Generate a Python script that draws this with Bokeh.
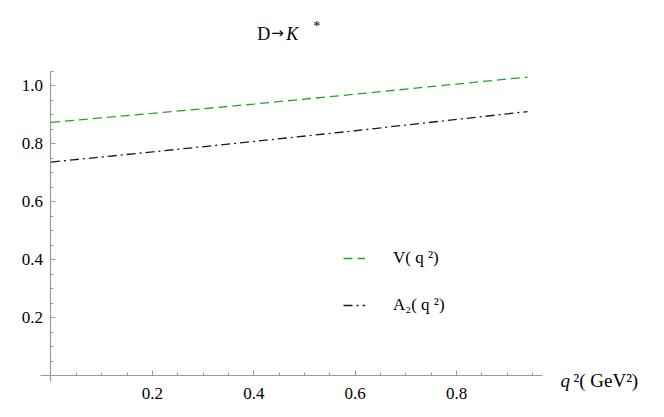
from bokeh.plotting import figure
from bokeh.models import (FixedTicker, PrintfTickFormatter, Label, Legend, LegendItem,
                          Range1d, ColumnDataSource)
from bokeh.embed import file_html
from bokeh.resources import INLINE

# ---- data ----
q2 = [0.0, 0.2, 0.4, 0.6, 0.8, 0.94]
V_vals = [0.874, 0.905, 0.937, 0.971, 1.006, 1.030]
A2_vals = [0.737, 0.772, 0.808, 0.845, 0.884, 0.911]

x_major = [0.2, 0.4, 0.6, 0.8]
x_minor = [0.05, 0.1, 0.15, 0.25, 0.3, 0.35, 0.45, 0.5, 0.55, 0.65, 0.7, 0.75, 0.85, 0.9, 0.95]
y_major = [0.2, 0.4, 0.6, 0.8, 1.0]
y_minor = [0.05, 0.1, 0.15, 0.25, 0.3, 0.35, 0.45, 0.5, 0.55, 0.65, 0.7, 0.75, 0.85, 0.9, 0.95, 1.05]

title_d = "D"
title_arrow = "→"
title_k = "K"
title_star = "*"
xlabel_q = "q"
xlabel_rest = "²( GeV²)"
label_V = "V( q ²)"
label_A2 = "A₂( q ²)"

FONT = "Liberation Serif"
GREEN = "#2e9b2e"
BLACK = "#1a1a1a"
AXIS = "#9a9a9a"

W, H = 660, 410
p = figure(width=W, height=H, min_border=0,
           x_range=Range1d(-0.0996, 1.2022), y_range=Range1d(-0.1197, 1.2941),
           output_backend="svg", toolbar_location=None)

p.outline_line_color = None
p.xgrid.visible = False
p.ygrid.visible = False
p.background_fill_color = "white"
p.border_fill_color = "white"

for ax, maj, mnr, loc, bnds in ((p.xaxis[0], x_major, x_minor, 0, (-0.021, 0.97)),
                                (p.yaxis[0], y_major, y_minor, 0, (-0.02, 1.05))):
    ax.fixed_location = loc
    ax.bounds = bnds
    ax.ticker = FixedTicker(ticks=maj, minor_ticks=mnr)
    ax.formatter = PrintfTickFormatter(format="%.1f")
    ax.axis_line_color = AXIS
    ax.axis_line_width = 1.2
    ax.major_tick_line_color = AXIS
    ax.minor_tick_line_color = AXIS
    ax.major_tick_in = 5
    ax.major_tick_out = 0
    ax.minor_tick_in = 3
    ax.minor_tick_out = 0
    ax.major_label_text_font = FONT
    ax.major_label_text_font_size = "17px"
    ax.major_label_text_color = "black"

p.xaxis.major_label_standoff = 12
p.yaxis.major_label_standoff = 8

src = ColumnDataSource(dict(q2=q2, V=V_vals, A2=A2_vals))
rV = p.line("q2", "V", source=src, line_color=GREEN, line_width=1.3, line_dash="9 5")
rA = p.line("q2", "A2", source=src, line_color=BLACK, line_width=1.3, line_dash="9 4 2 4")

legend = Legend(items=[LegendItem(label=label_V, renderers=[rV]),
                       LegendItem(label=label_A2, renderers=[rA])],
                location=(343, 95), orientation="vertical",
                glyph_width=22, glyph_height=20, label_standoff=28, spacing=27,
                padding=0, margin=0, border_line_color=None, background_fill_alpha=0,
                label_text_font=FONT, label_text_font_size="17px", label_text_color="black")
p.add_layout(legend)

# title pieces
tx, ty = 0.407, 1.18
p.add_layout(Label(x=tx, y=ty, text=title_d, text_font=FONT, text_font_size="18px",
                   text_baseline="alphabetic", text_color="black"))
p.add_layout(Label(x=tx, y=ty, x_offset=14, y_offset=1, text=title_arrow, text_font="DejaVu Sans",
                   text_font_size="15px", text_baseline="alphabetic", text_color="black"))
p.add_layout(Label(x=tx, y=ty, x_offset=29, text=title_k, text_font=FONT, text_font_size="18px",
                   text_font_style="italic", text_baseline="alphabetic", text_color="black"))
p.add_layout(Label(x=tx, y=ty, x_offset=56, y_offset=7, text=title_star, text_font=FONT,
                   text_font_size="14px", text_baseline="alphabetic", text_color="black"))

# x-axis label at the right end of the axis
lx = 1.005
p.add_layout(Label(x=lx, y=0, y_offset=-5, text=xlabel_q, text_font=FONT, text_font_size="19px",
                   text_font_style="italic", text_baseline="alphabetic", text_color="black"))
p.add_layout(Label(x=lx, y=0, x_offset=13, y_offset=-5, text=xlabel_rest, text_font=FONT,
                   text_font_size="19px", text_baseline="alphabetic", text_color="black"))

open("out.html", "w").write(file_html(p, INLINE))
